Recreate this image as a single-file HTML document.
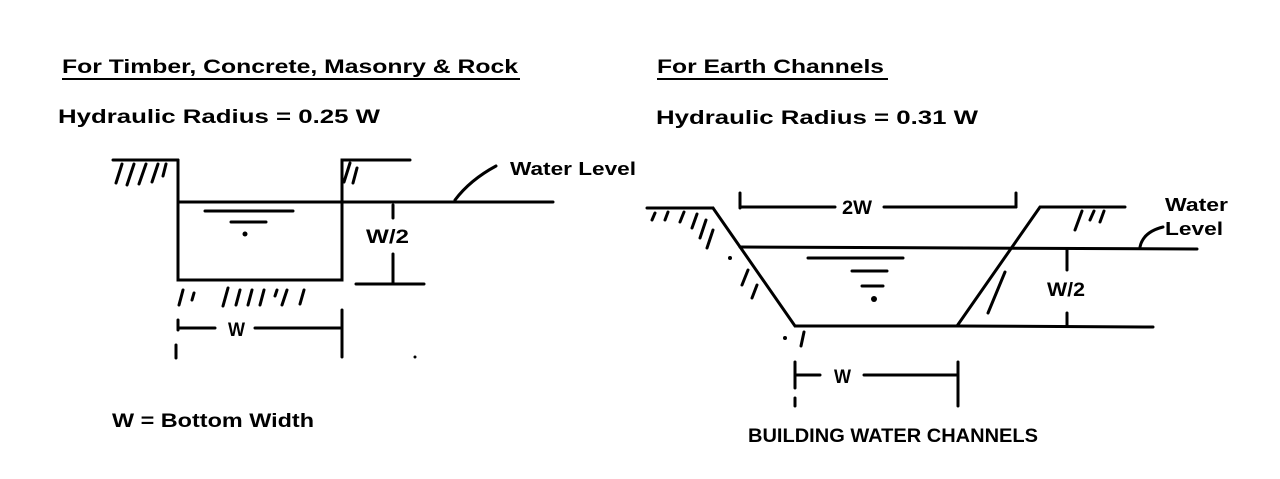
<!DOCTYPE html>
<html><head><meta charset="utf-8"><style>
html,body{margin:0;padding:0;background:#fff;}
svg{display:block;}
text{font-family:"Liberation Sans",sans-serif;font-weight:bold;fill:#000;}
</style></head><body>
<svg width="1280" height="479" viewBox="0 0 1280 479" xmlns="http://www.w3.org/2000/svg">
<g stroke="#000" stroke-width="3" fill="none" stroke-linecap="round">
<!-- LEFT -->
<line x1="113" y1="160" x2="178" y2="160"/>
<polyline points="178,160 178,280 342,280 342,160 410,160"/>
<line x1="178" y1="202" x2="553" y2="202"/>
<line x1="205" y1="211" x2="293" y2="211"/>
<line x1="231" y1="222" x2="266" y2="222"/>
<line x1="393" y1="205" x2="393" y2="218"/>
<line x1="393" y1="254" x2="393" y2="283"/>
<line x1="356" y1="284" x2="424" y2="284"/>
<path d="M455,200 Q470,180 496,166"/>
<line x1="178" y1="328" x2="215" y2="328"/>
<line x1="255" y1="328" x2="340" y2="328"/>
<line x1="342" y1="310" x2="342" y2="357"/>
<line x1="178" y1="320" x2="178" y2="330"/>
<line x1="176" y1="345" x2="176" y2="358"/>
<line x1="122" y1="164" x2="116" y2="183"/><line x1="134" y1="164" x2="127" y2="185"/>
<line x1="146" y1="164" x2="139" y2="184"/><line x1="158" y1="164" x2="152" y2="182"/>
<line x1="166" y1="164" x2="163" y2="176"/>
<line x1="350" y1="163" x2="344" y2="182"/><line x1="357" y1="168" x2="353" y2="183"/>
<line x1="183" y1="290" x2="179" y2="305"/><line x1="194" y1="293" x2="192" y2="300"/>
<line x1="228" y1="288" x2="223" y2="306"/><line x1="240" y1="290" x2="236" y2="305"/>
<line x1="252" y1="290" x2="248" y2="305"/><line x1="264" y1="290" x2="260" y2="305"/>
<line x1="277" y1="290" x2="275" y2="296"/><line x1="287" y1="290" x2="282" y2="305"/>
<line x1="304" y1="290" x2="300" y2="304"/>
<!-- RIGHT -->
<line x1="647" y1="208" x2="713" y2="208"/>
<polyline points="713,208 795,326 957,326 1040,207 1125,207"/>
<line x1="957" y1="326" x2="1153" y2="327"/>
<line x1="740" y1="247" x2="1197" y2="249"/>
<line x1="808" y1="258" x2="903" y2="258"/>
<line x1="852" y1="271" x2="887" y2="271"/>
<line x1="862" y1="286" x2="883" y2="286"/>
<line x1="740" y1="193" x2="740" y2="208"/>
<line x1="740" y1="207" x2="835" y2="207"/>
<line x1="884" y1="207" x2="1016" y2="207"/>
<line x1="1016" y1="193" x2="1016" y2="207"/>
<line x1="1067" y1="250" x2="1067" y2="270"/>
<line x1="1067" y1="313" x2="1067" y2="326"/>
<path d="M1140,247 Q1143,232 1163,227"/>
<line x1="795" y1="362" x2="795" y2="388"/>
<line x1="795" y1="398" x2="795" y2="406"/>
<line x1="795" y1="375" x2="820" y2="375"/>
<line x1="864" y1="375" x2="958" y2="375"/>
<line x1="958" y1="362" x2="958" y2="406"/>
<line x1="655" y1="213" x2="652" y2="220"/><line x1="668" y1="212" x2="665" y2="220"/>
<line x1="684" y1="212" x2="680" y2="222"/><line x1="697" y1="214" x2="692" y2="228"/>
<line x1="706" y1="220" x2="700" y2="238"/><line x1="713" y1="230" x2="707" y2="248"/>
<line x1="748" y1="270" x2="742" y2="285"/><line x1="757" y1="285" x2="752" y2="298"/>
<line x1="1082" y1="211" x2="1075" y2="230"/><line x1="1094" y1="211" x2="1090" y2="220"/>
<line x1="1104" y1="211" x2="1100" y2="222"/>
<line x1="1005" y1="272" x2="988" y2="313"/>
<line x1="804" y1="332" x2="801" y2="346"/>
</g>
<g fill="#000">
<circle cx="245" cy="234" r="2.5"/>
<circle cx="874" cy="299" r="3"/>
<circle cx="730" cy="258" r="2"/>
<circle cx="785" cy="338" r="2"/>
<circle cx="415" cy="357" r="1.5"/>
</g>
<text x="62" y="73" font-size="19" textLength="456" lengthAdjust="spacingAndGlyphs">For Timber, Concrete, Masonry &amp; Rock</text>
<line x1="62" y1="79" x2="520" y2="79" stroke="#000" stroke-width="2"/>
<text x="58" y="123" font-size="19" textLength="322" lengthAdjust="spacingAndGlyphs">Hydraulic Radius = 0.25 W</text>
<text x="510" y="175" font-size="18" textLength="126" lengthAdjust="spacingAndGlyphs">Water Level</text>
<text x="366" y="243" font-size="19" textLength="43" lengthAdjust="spacingAndGlyphs">W/2</text>
<text x="228" y="336" font-size="19" textLength="17" lengthAdjust="spacingAndGlyphs">W</text>
<text x="112" y="427" font-size="19" textLength="202" lengthAdjust="spacingAndGlyphs">W = Bottom Width</text>
<text x="657" y="73" font-size="19" textLength="227" lengthAdjust="spacingAndGlyphs">For Earth Channels</text>
<line x1="657" y1="79" x2="888" y2="79" stroke="#000" stroke-width="2"/>
<text x="656" y="124" font-size="19" textLength="322" lengthAdjust="spacingAndGlyphs">Hydraulic Radius = 0.31 W</text>
<text x="842" y="214" font-size="19" textLength="30" lengthAdjust="spacingAndGlyphs">2W</text>
<text x="1047" y="296" font-size="19" textLength="38" lengthAdjust="spacingAndGlyphs">W/2</text>
<text x="1165" y="211" font-size="18" textLength="63" lengthAdjust="spacingAndGlyphs">Water</text>
<text x="1165" y="235" font-size="18" textLength="58" lengthAdjust="spacingAndGlyphs">Level</text>
<text x="834" y="383" font-size="19" textLength="17" lengthAdjust="spacingAndGlyphs">W</text>
<text x="748" y="442" font-size="19" textLength="290" lengthAdjust="spacingAndGlyphs">BUILDING WATER CHANNELS</text>
</svg>
</body></html>
